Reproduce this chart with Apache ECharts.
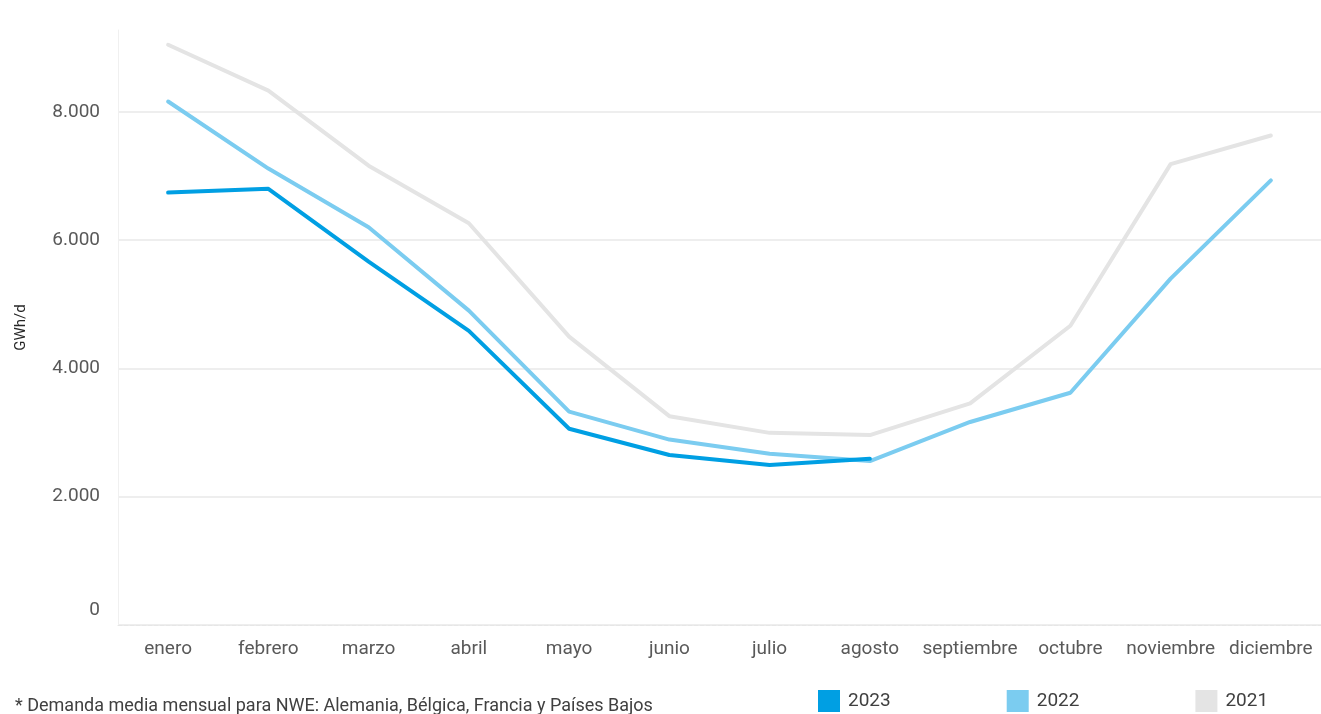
<!DOCTYPE html>
<html>
<head>
<meta charset="utf-8">
<title>Demanda media mensual NWE</title>
<script src="https://cdn.jsdelivr.net/npm/echarts@6/dist/echarts.min.js"></script>
<style>
  html, body { margin: 0; padding: 0; background: #fff; }
  #chart { width: 1321px; height: 714px; }
</style>
</head>
<body>
<div id="chart"></div>
<script>
// meses
const months = ['enero', 'febrero', 'marzo', 'abril', 'mayo', 'junio', 'julio', 'agosto', 'septiembre', 'octubre', 'noviembre', 'diciembre'];

// GWh/d
const y2023 = [6740, 6800, 5665, 4585, 3060, 2650, 2495, 2590, null, null, null, null];
const y2022 = [8160, 7115, 6200, 4900, 3325, 2890, 2670, 2555, 3165, 3620, 5400, 6930];
const y2021 = [9045, 8330, 7160, 6262, 4495, 3255, 2995, 2960, 3455, 4665, 7185, 7630];

const yTicks = [0, 2000, 4000, 6000, 8000];

const colors = { '2023': '#009fe3', '2022': '#7bccf0', '2021': '#e4e4e4' };
const font = 'Roboto';

const chart = echarts.init(document.getElementById('chart'), null, { renderer: 'canvas' });

function line(name, data) {
    return {
        name,
        type: 'line',
        data,
        symbol: 'none',
        connectNulls: false,
        lineStyle: { width: 4, color: colors[name], cap: 'round', join: 'round' },
        itemStyle: { color: colors[name] },
        emphasis: { disabled: true }
    };
}

chart.setOption({
    animation: false,
    textStyle: { fontFamily: font },
    title: {
        text: '* Demanda media mensual para NWE: Alemania, Bélgica, Francia y Países Bajos',
        left: 10,
        top: 692,
        textStyle: { fontSize: 18, fontWeight: 'normal', color: '#404040', fontFamily: font }
    },
    legend: {
        data: ['2023', '2022', '2021'],
        left: 818,
        top: 690,
        padding: 0,
        icon: 'rect',
        itemWidth: 22,
        itemHeight: 22,
        itemGap: 116,
        textStyle: { fontSize: 19, color: '#404040', fontFamily: font, padding: [0, 0, 0, 3] }
    },
    grid: { left: 118, right: 0, top: 30, bottom: 89, containLabel: false },
    xAxis: {
        type: 'category',
        data: months,
        boundaryGap: true,
        axisLine: { show: true, lineStyle: { color: '#e6e6e6', type: 'dashed', width: 1 } },
        axisTick: { show: false },
        axisLabel: { fontSize: 19, color: '#595959', margin: 15, interval: 0, fontFamily: font }
    },
    yAxis: {
        type: 'value',
        min: 0,
        max: 9275,
        interval: 2000,
        name: 'GWh/d',
        nameLocation: 'middle',
        nameGap: 89,
        nameRotate: 90,
        nameTextStyle: { fontSize: 15, color: '#262626', fontFamily: font },
        axisLine: { show: true, lineStyle: { color: '#f0f0f0', width: 1 } },
        axisTick: { show: false },
        splitLine: { show: true, showMaxLine: false, lineStyle: { color: '#eeeeee', width: 2 } },
        axisLabel: {
            fontSize: 19,
            color: '#595959',
            margin: 18,
            showMaxLabel: false,
            fontFamily: font,
            formatter: v => v === 0 ? '{z|0}' : (yTicks.includes(v) ? v.toLocaleString('de-DE') : ''),
            rich: {
                z: { fontSize: 19, color: '#595959', fontFamily: font, padding: [0, 0, 30, 0] }
            }
        }
    },
    series: [
        line('2021', y2021),
        line('2022', y2022),
        line('2023', y2023)
    ]
});
</script>
</body>
</html>
